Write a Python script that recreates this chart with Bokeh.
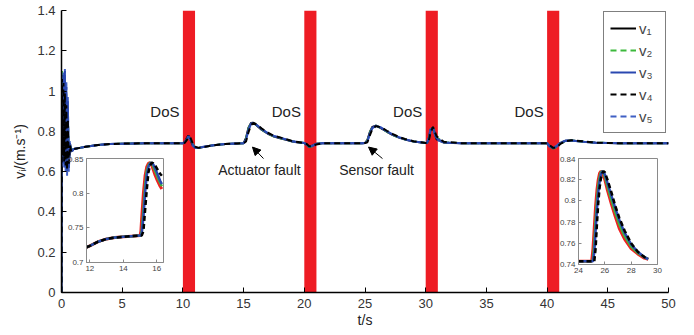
from bokeh.plotting import figure
from bokeh.models import (Range1d, Legend, LegendItem, Arrow, NormalHead, Label,
                          FixedTicker, ColumnDataSource)
from bokeh.embed import file_html
from bokeh.resources import INLINE

# ---------------- data ----------------
t_main = [0, 0.04, 0.1, 0.16, 0.22, 0.28, 0.34, 0.4, 0.46, 0.52, 0.6, 0.7, 0.8,
          1.0, 1.5, 2, 3, 4, 5, 7, 9, 10,
          10.15, 10.3, 10.45, 10.6, 10.8, 11.0, 11.3, 11.8, 12.5, 13.5, 14.5,
          15.0, 15.2, 15.4, 15.6, 15.8, 16.1, 16.5, 17, 17.5, 18, 18.5, 19, 19.5, 20,
          20.2, 20.4, 20.7, 21, 21.5, 23, 24.8,
          25.0, 25.2, 25.4, 25.6, 25.9, 26.3, 26.8, 27.3, 27.8, 28.3, 29, 30,
          30.1, 30.25, 30.4, 30.6, 30.9, 31.5, 33, 36, 39,
          40, 40.2, 40.5, 40.8, 41.1, 41.5, 42, 43, 44, 46, 50]

v1 = [0, 1.08, 0.70, 1.05, 0.68, 1.00, 0.66, 0.95, 0.63, 0.88, 0.62, 0.74, 0.70,
      0.712, 0.718, 0.724, 0.732, 0.737, 0.739, 0.741, 0.741, 0.741,
      0.746, 0.764, 0.779, 0.762, 0.732, 0.719, 0.718, 0.724, 0.731, 0.737, 0.74,
      0.741, 0.768, 0.818, 0.841, 0.843, 0.828, 0.807, 0.788, 0.774, 0.766, 0.758, 0.75, 0.745, 0.742,
      0.733, 0.722, 0.73, 0.739, 0.741, 0.741, 0.741,
      0.742, 0.758, 0.797, 0.822, 0.828, 0.816, 0.798, 0.781, 0.769, 0.759, 0.749, 0.742,
      0.742, 0.765, 0.81, 0.818, 0.76, 0.744, 0.741, 0.741, 0.741,
      0.741, 0.726, 0.715, 0.726, 0.743, 0.753, 0.755, 0.749, 0.744, 0.741, 0.741]
v2 = [0, 1.10, 0.72, 1.06, 0.70, 1.02, 0.69, 0.96, 0.68, 0.90, 0.68, 0.73, 0.71,
      0.712, 0.718, 0.724, 0.732, 0.737, 0.739, 0.741, 0.741, 0.741,
      0.744, 0.758, 0.772, 0.768, 0.738, 0.722, 0.718, 0.724, 0.731, 0.737, 0.74,
      0.741, 0.764, 0.814, 0.84, 0.843, 0.829, 0.809, 0.789, 0.775, 0.767, 0.758, 0.751, 0.746, 0.742,
      0.736, 0.722, 0.726, 0.737, 0.741, 0.741, 0.741,
      0.742, 0.755, 0.794, 0.82, 0.828, 0.817, 0.799, 0.782, 0.77, 0.76, 0.75, 0.742,
      0.742, 0.758, 0.8, 0.818, 0.77, 0.746, 0.741, 0.741, 0.741,
      0.741, 0.73, 0.714, 0.722, 0.74, 0.751, 0.755, 0.749, 0.744, 0.741, 0.741]
v3 = [0, 1.02, 0.66, 1.08, 0.64, 1.10, 0.62, 1.02, 0.60, 0.95, 0.62, 0.74, 0.70,
      0.712, 0.718, 0.724, 0.732, 0.737, 0.739, 0.741, 0.741, 0.741,
      0.745, 0.76, 0.776, 0.765, 0.735, 0.72, 0.718, 0.724, 0.731, 0.737, 0.74,
      0.741, 0.76, 0.81, 0.838, 0.843, 0.83, 0.81, 0.79, 0.776, 0.768, 0.759, 0.751, 0.746, 0.742,
      0.735, 0.724, 0.728, 0.738, 0.741, 0.741, 0.741,
      0.742, 0.752, 0.79, 0.818, 0.828, 0.818, 0.8, 0.783, 0.77, 0.76, 0.75, 0.742,
      0.742, 0.76, 0.805, 0.82, 0.765, 0.745, 0.741, 0.741, 0.741,
      0.741, 0.728, 0.716, 0.725, 0.742, 0.752, 0.755, 0.749, 0.744, 0.741, 0.741]
v4 = [0, 1.06, 0.68, 1.04, 0.65, 0.99, 0.63, 0.93, 0.61, 0.86, 0.64, 0.73, 0.70,
      0.712, 0.718, 0.724, 0.732, 0.737, 0.739, 0.741, 0.741, 0.741,
      0.743, 0.755, 0.77, 0.772, 0.742, 0.724, 0.718, 0.723, 0.731, 0.737, 0.74,
      0.741, 0.75, 0.795, 0.83, 0.842, 0.834, 0.814, 0.793, 0.778, 0.77, 0.761, 0.752, 0.747, 0.742,
      0.737, 0.726, 0.725, 0.735, 0.741, 0.741, 0.741,
      0.742, 0.746, 0.78, 0.81, 0.826, 0.821, 0.803, 0.786, 0.772, 0.762, 0.751, 0.742,
      0.742, 0.752, 0.795, 0.822, 0.775, 0.748, 0.741, 0.741, 0.741,
      0.741, 0.732, 0.718, 0.72, 0.738, 0.75, 0.756, 0.75, 0.744, 0.741, 0.741]
v5 = [0, 0.98, 0.64, 1.10, 0.62, 1.11, 0.60, 1.05, 0.58, 0.97, 0.60, 0.75, 0.69,
      0.712, 0.718, 0.724, 0.732, 0.737, 0.739, 0.741, 0.741, 0.741,
      0.747, 0.766, 0.774, 0.76, 0.73, 0.718, 0.719, 0.725, 0.731, 0.737, 0.74,
      0.741, 0.756, 0.805, 0.835, 0.843, 0.831, 0.811, 0.791, 0.777, 0.769, 0.76, 0.751, 0.746, 0.742,
      0.732, 0.725, 0.73, 0.739, 0.741, 0.741, 0.741,
      0.742, 0.75, 0.786, 0.815, 0.827, 0.82, 0.801, 0.784, 0.771, 0.761, 0.75, 0.742,
      0.742, 0.77, 0.812, 0.812, 0.758, 0.744, 0.741, 0.741, 0.741,
      0.741, 0.724, 0.717, 0.73, 0.745, 0.754, 0.754, 0.748, 0.744, 0.741, 0.741]

series_labels = ["v\u2081", "v\u2082", "v\u2083", "v\u2084", "v\u2085"]

dos_start = [10, 20, 30, 40]
dos_end = [11, 21, 31, 41]

x_ticks = [0, 5, 10, 15, 20, 25, 30, 35, 40, 45, 50]
y_ticks = [0, 0.2, 0.4, 0.6, 0.8, 1.0, 1.2, 1.4]

# inset 1 (actuator fault)
t_in1 = [11.8, 12, 12.5, 13, 13.5, 14, 14.5, 15.0,
         15.05, 15.1, 15.2, 15.3, 15.4, 15.5, 15.6, 15.7, 15.8, 15.9, 16.0, 16.1, 16.2, 16.3]
pre1 = [0.722, 0.724, 0.73, 0.734, 0.736, 0.737, 0.738, 0.739]
in1_red = pre1 + [0.745, 0.765, 0.8, 0.825, 0.838, 0.843, 0.844, 0.84, 0.833, 0.826, 0.82, 0.815, 0.81, 0.806]
in1_green = pre1 + [0.739, 0.745, 0.775, 0.81, 0.832, 0.84, 0.844, 0.843, 0.838, 0.832, 0.826, 0.82, 0.815, 0.81]
in1_blue = pre1 + [0.739, 0.742, 0.765, 0.8, 0.826, 0.838, 0.843, 0.844, 0.841, 0.836, 0.83, 0.824, 0.818, 0.813]
in1_black = pre1 + [0.739, 0.739, 0.745, 0.775, 0.805, 0.83, 0.84, 0.844, 0.843, 0.84, 0.836, 0.832, 0.828, 0.825]

# inset 2 (sensor fault)
t_in2 = [24, 24.5, 25.0,
         25.1, 25.2, 25.3, 25.4, 25.5, 25.6, 25.7, 25.8, 25.9, 26.0, 26.2, 26.5, 26.8, 27.1, 27.5, 28, 28.5, 29, 29.3]
pre2 = [0.743, 0.743, 0.743]
in2_red = pre2 + [0.755, 0.775, 0.795, 0.81, 0.82, 0.826, 0.828, 0.827, 0.824, 0.82, 0.81, 0.797, 0.785, 0.774, 0.764, 0.755, 0.75, 0.746, 0.745]
in2_green = pre2 + [0.745, 0.76, 0.782, 0.8, 0.814, 0.822, 0.827, 0.828, 0.826, 0.823, 0.814, 0.801, 0.789, 0.778, 0.767, 0.757, 0.751, 0.747, 0.745]
in2_blue = pre2 + [0.743, 0.752, 0.772, 0.792, 0.808, 0.818, 0.825, 0.828, 0.827, 0.825, 0.817, 0.805, 0.793, 0.782, 0.77, 0.759, 0.752, 0.747, 0.745]
in2_black = pre2 + [0.743, 0.743, 0.755, 0.778, 0.798, 0.812, 0.821, 0.826, 0.828, 0.827, 0.82, 0.808, 0.795, 0.784, 0.772, 0.76, 0.752, 0.747, 0.745]

FONT = "Liberation Sans"

# ---------------- main figure ----------------
p = figure(frame_width=607, frame_height=282, output_backend="svg", toolbar_location=None,
           x_range=Range1d(0, 50), y_range=Range1d(0, 1.4),
           min_border_left=61, min_border_right=12, min_border_top=10, min_border_bottom=42)
p.outline_line_color = None
p.xgrid.visible = False
p.ygrid.visible = False

for ax in (p.xaxis[0], p.yaxis[0]):
    ax.major_tick_in = 5
    ax.major_tick_out = 0
    ax.minor_tick_in = 0
    ax.minor_tick_out = 0
    ax.axis_line_color = "black"
    ax.axis_line_width = 1.5
    ax.major_tick_line_color = "black"
    ax.major_label_text_font = FONT
    ax.major_label_text_font_size = "13px"
    ax.major_label_text_color = "#333333"
    ax.axis_label_text_font = FONT
    ax.axis_label_text_font_size = "14px"
    ax.axis_label_text_font_style = "normal"
    ax.axis_label_text_color = "#222222"
p.xaxis.ticker = FixedTicker(ticks=x_ticks)
p.yaxis.ticker = FixedTicker(ticks=y_ticks)
p.yaxis.major_label_overrides = {0: "0", 1: "1"}
p.xaxis.axis_label = "t/s"
p.yaxis.axis_label = "v\u1d62/(m.s\u207b\u00b9)"
p.xaxis.major_label_standoff = 6
p.yaxis.major_label_standoff = 6
p.xaxis.axis_label_standoff = 1
p.yaxis.axis_label_standoff = 6

# DoS bars
p.quad(left=dos_start, right=dos_end, bottom=0, top=1.4, fill_color="#ee1c24",
       line_color=None)

src = ColumnDataSource(dict(t=t_main, v1=v1, v2=v2, v3=v3, v4=v4, v5=v5))
r1 = p.line("t", "v1", source=src, line_color="black", line_width=2)
r2 = p.line("t", "v2", source=src, line_color="#3cb93c", line_width=2, line_dash="6 4")
r5 = p.line("t", "v5", source=src, line_color="#3f5fc4", line_width=2, line_dash="6 4")
r3 = p.line("t", "v3", source=src, line_color="#2a48b0", line_width=2)
r4 = p.line("t", "v4", source=src, line_color="black", line_width=2, line_dash="6 4")

legend = Legend(items=[LegendItem(label=series_labels[0], renderers=[r1]),
                       LegendItem(label=series_labels[1], renderers=[r2]),
                       LegendItem(label=series_labels[2], renderers=[r3]),
                       LegendItem(label=series_labels[3], renderers=[r4]),
                       LegendItem(label=series_labels[4], renderers=[r5])],
                location=(542, 159))
legend.border_line_color = "black"
legend.border_line_width = 1.5
legend.label_text_font = FONT
legend.label_text_font_size = "15px"
legend.label_height = 20
legend.glyph_height = 20
legend.glyph_width = 26
legend.spacing = 2
legend.padding = 6
legend.margin = 0
legend.label_standoff = 3
p.add_layout(legend)

for s in dos_start:
    p.add_layout(Label(x=s - 0.28, y=0.9, text="DoS", text_align="right",
                       text_baseline="middle", text_font=FONT,
                       text_font_size="15px", text_color="#222222"))

p.add_layout(Label(x=16.3, y=0.606, text="Actuator fault", text_align="center",
                   text_baseline="middle", text_font=FONT, text_font_size="14px",
                   text_color="#222222"))
p.add_layout(Label(x=25.95, y=0.606, text="Sensor fault", text_align="center",
                   text_baseline="middle", text_font=FONT, text_font_size="14px",
                   text_color="#222222"))
p.add_layout(Arrow(x_start=16.64, y_start=0.665, x_end=15.73, y_end=0.722,
                   line_color="black", line_width=1,
                   end=NormalHead(size=8, fill_color="black", line_color="black")))
p.add_layout(Arrow(x_start=26.44, y_start=0.665, x_end=25.29, y_end=0.722,
                   line_color="black", line_width=1,
                   end=NormalHead(size=8, fill_color="black", line_color="black")))

IBL, IBR = 24, 8


def make_inset(xr, yr, xt, yt, left, top, fw, fh):
    f = figure(frame_width=fw, frame_height=fh, output_backend="svg", toolbar_location=None,
               x_range=Range1d(*xr), y_range=Range1d(*yr),
               min_border_left=IBL, min_border_right=IBR, min_border_top=2, min_border_bottom=14,
               styles={"position": "absolute", "left": f"{left}px", "top": f"{top}px"})
    f.border_fill_alpha = 0
    f.background_fill_color = "white"
    f.outline_line_color = "#8a8a8a"
    f.xgrid.visible = False
    f.ygrid.visible = False
    for ax in (f.xaxis[0], f.yaxis[0]):
        ax.major_tick_in = 3
        ax.major_tick_out = 0
        ax.minor_tick_in = 0
        ax.minor_tick_out = 0
        ax.axis_line_color = "#8a8a8a"
        ax.major_tick_line_color = "#8a8a8a"
        ax.major_label_text_font = FONT
        ax.major_label_text_font_size = "8px"
        ax.major_label_text_color = "#444444"
        ax.major_label_standoff = 3
    f.xaxis.ticker = FixedTicker(ticks=xt)
    f.yaxis.ticker = FixedTicker(ticks=yt)
    return f


in1 = make_inset((11.8, 16.4), (0.7, 0.85), [12, 14, 16], [0.7, 0.75, 0.8, 0.85],
                 86 - IBL, 156, 77, 104)
in1.line(t_in1, in1_red, line_color="#ee2222", line_width=3)
in1.line(t_in1, in1_green, line_color="#3cb93c", line_width=2.5)
in1.line(t_in1, in1_blue, line_color="#2a48b0", line_width=2.5)
in1.line(t_in1, in1_black, line_color="black", line_width=2.5, line_dash="5 3")

in2 = make_inset((24, 30), (0.74, 0.84), [24, 26, 28, 30], [0.74, 0.76, 0.78, 0.8, 0.82, 0.84],
                 578 - IBL, 156, 79, 106)
in2.line(t_in2, in2_red, line_color="#ee2222", line_width=3)
in2.line(t_in2, in2_green, line_color="#3cb93c", line_width=2.5)
in2.line(t_in2, in2_blue, line_color="#2a48b0", line_width=2.5)
in2.line(t_in2, in2_black, line_color="black", line_width=2.5, line_dash="5 3")

open("out.html", "w").write(file_html([p, in1, in2], INLINE))
